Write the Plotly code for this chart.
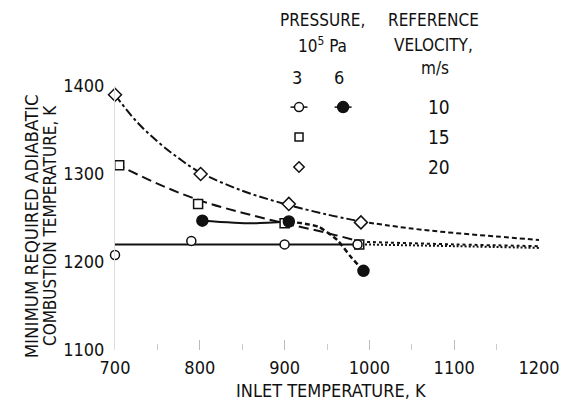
import plotly.graph_objects as go

# ---- data ----
# Fitted curves
v20_curve_x = [700, 725, 750, 775, 800, 850, 900, 950, 990]
v20_curve_y = [1390, 1360, 1337, 1318, 1302, 1281, 1266, 1254, 1246]
v20_ext_x = [990, 1050, 1100, 1150, 1200]
v20_ext_y = [1246, 1238, 1233, 1229, 1225]

v15_curve_x = [700, 750, 800, 850, 900, 950, 990]
v15_curve_y = [1312, 1289, 1270, 1256, 1244, 1233, 1223]
v15_ext_x = [990, 1100, 1200]
v15_ext_y = [1223, 1220, 1218]

v10_curve_x = [700, 800, 900, 990]
v10_curve_y = [1220, 1220, 1220, 1220]
v10_ext_x = [990, 1100, 1200]
v10_ext_y = [1220, 1218, 1216]

p6_curve_x = [803, 860, 905]
p6_curve_y = [1247, 1244, 1246]
p6_ext_x = [905, 940, 962, 978, 993]
p6_ext_y = [1246, 1240, 1225, 1206, 1190]

# Data points
v20_pts_x = [700, 801, 905, 990]
v20_pts_y = [1390, 1300, 1266, 1245]
v15_pts_x = [705, 798, 900, 988]
v15_pts_y = [1310, 1266, 1244, 1220]
v10_pts_x = [700, 790, 900, 986]
v10_pts_y = [1208, 1224, 1220, 1220]
p6_pts_x = [803, 905, 993]
p6_pts_y = [1247, 1246, 1190]

x_ticks = [700, 800, 900, 1000, 1100, 1200]
y_ticks = [1100, 1200, 1300, 1400]

FONT = "Liberation Sans Narrow, DejaVu Sans Condensed, Arial Narrow, sans-serif"
BLACK = "#111111"

fig = go.Figure()

def line(x, y, dash, width=2, smoothing=1.0):
    fig.add_trace(go.Scatter(x=x, y=y, mode="lines",
                             line=dict(color=BLACK, width=width, dash=dash, shape="spline", smoothing=smoothing),
                             showlegend=False, hoverinfo="skip"))

line(v20_curve_x, v20_curve_y, "dashdot")
line(v20_ext_x, v20_ext_y, "5px,3px")
line(v15_curve_x, v15_curve_y, "10px,5px")
line(v15_ext_x, v15_ext_y, "3px,3px")
line(v10_curve_x, v10_curve_y, "solid")
line(v10_ext_x, v10_ext_y, "2px,2px")
line(p6_curve_x, p6_curve_y, "solid", smoothing=0.6)
line(p6_ext_x, p6_ext_y, "5px,3px", width=2.5, smoothing=0.6)

def pts(x, y, symbol, size=9, filled=False):
    fig.add_trace(go.Scatter(x=x, y=y, mode="markers",
                             marker=dict(symbol=symbol, size=size, color=BLACK if filled else "white",
                                         line=dict(color=BLACK, width=1.5)),
                             showlegend=False, hoverinfo="skip", cliponaxis=False))

pts(v20_pts_x, v20_pts_y, "diamond", 10)
pts(v15_pts_x, v15_pts_y, "square", 9)
pts(v10_pts_x, v10_pts_y, "circle", 9)
pts(p6_pts_x, p6_pts_y, "circle", 11, filled=True)

# ---- legend (drawn inside the plot area) ----
leg_open_x = [917]
leg_fill_x = [969]
leg_y = [1376, 1342, 1308]
for xc in [leg_open_x[0], leg_fill_x[0]]:
    fig.add_trace(go.Scatter(x=[xc - 10, xc + 10], y=[leg_y[0], leg_y[0]], mode="lines",
                             line=dict(color=BLACK, width=1.5), showlegend=False, hoverinfo="skip"))
pts(leg_open_x, [leg_y[0]], "circle", 9)
pts(leg_fill_x, [leg_y[0]], "circle", 11, filled=True)
pts(leg_open_x, [leg_y[1]], "square", 8)
pts(leg_open_x, [leg_y[2]], "diamond", 8)

ann = []
def text(t, x, y, size=17, xref="paper", yref="paper", angle=0):
    ann.append(dict(text=t, x=x, y=y, xref=xref, yref=yref, showarrow=False, textangle=angle,
                    xanchor="center", yanchor="middle",
                    font=dict(family=FONT, size=size, color=BLACK)))

leg_vel = ["10", "15", "20"]
for v, yy in zip(leg_vel, leg_y):
    text(v, 1082, yy, 19, "x", "y")
text("3", 0.43, 1.034, 18)
text("6", 0.529, 1.034, 18)
text("m/s", 0.754, 1.068, 17)
text("PRESSURE,", 0.49, 1.25, 17)
text("10<sup>5</sup> Pa", 0.49, 1.155, 17)
text("REFERENCE", 0.752, 1.25, 17)
text("VELOCITY,", 0.752, 1.155, 17)
text("INLET TEMPERATURE, K", 0.51, -0.152, 18)
text("MINIMUM REQUIRED ADIABATIC", -0.195, 0.47, 18.5, angle=-90)
text("COMBUSTION TEMPERATURE, K", -0.153, 0.47, 17, angle=-90)

fig.update_layout(
    width=572, height=402,
    margin=dict(l=115, r=22, t=86, b=52),
    paper_bgcolor="white", plot_bgcolor="white",
    annotations=ann,
    font=dict(family=FONT, size=15, color=BLACK),
    xaxis=dict(range=[700, 1200], tickvals=x_ticks, showgrid=False, zeroline=False,
               showline=False, ticks="inside", ticklen=10, tickcolor="#bbbbbb", tickwidth=1,
               minor=dict(dtick=50, ticks="inside", ticklen=6, tickcolor="#cccccc"),
               ticklabelstandoff=5,
               tickfont=dict(family=FONT, size=18, color=BLACK)),
    yaxis=dict(range=[1100, 1400], tickvals=y_ticks, showgrid=False, zeroline=False,
               showline=True, linecolor="#dddddd", linewidth=1, ticks="",
               ticklabelstandoff=6,
               tickfont=dict(family=FONT, size=18, color=BLACK)),
)

fig.write_html("out.html")
